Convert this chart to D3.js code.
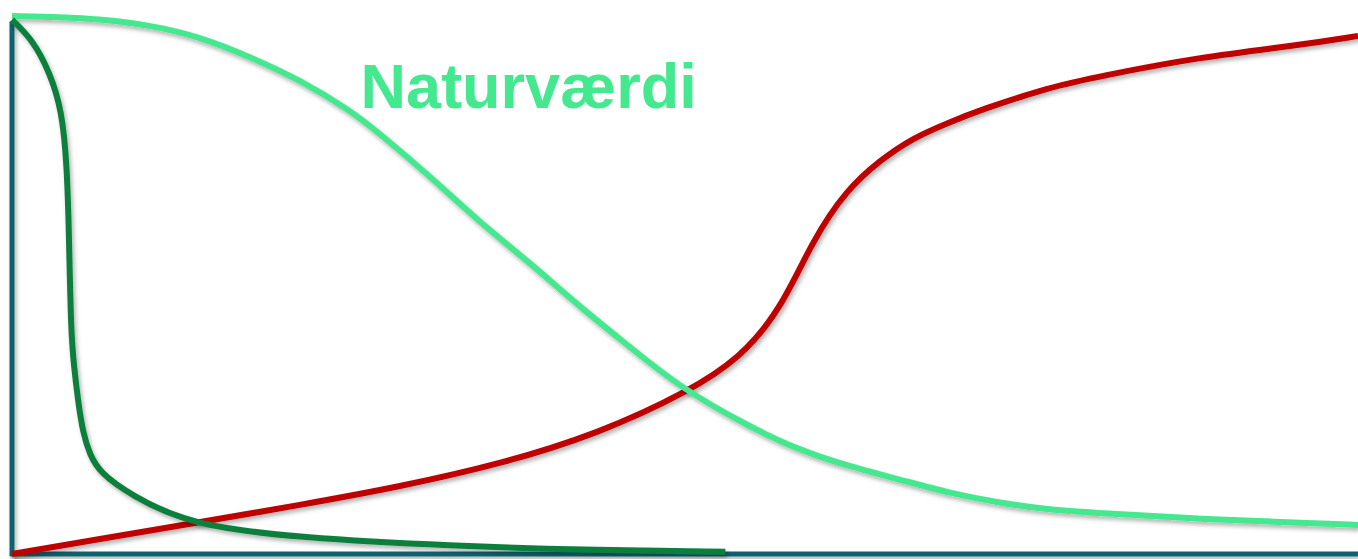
<!DOCTYPE html>
<html>
<head>
<meta charset="utf-8">
<script src="https://cdn.jsdelivr.net/npm/d3@7"></script>
<style>
  body { margin: 0; background: #fff; }
  svg { display: block; }
</style>
</head>
<body>
<div class="chart"></div>
<script>
// x and y both run 0..100 (no units on the original)
const naturX = [0, 3.6, 6.5, 10.3, 14.0, 17.7, 21.4, 25.1, 27.3, 31.1, 34.8, 38.5, 42.2, 45.9, 49.6, 54.8, 58.5, 62.3, 66.0, 69.7, 73.4, 77.1, 80.8, 88.3, 95.7, 100]
const naturY = [100, 99.8, 99.4, 98.3, 96.1, 92.4, 88.1, 82.5, 78.2, 70.1, 61.5, 54.1, 45.9, 38.5, 31.0, 23.6, 19.3, 16.2, 13.8, 11.3, 9.5, 8.2, 7.6, 6.5, 5.8, 5.4]

const redX = [0, 6.5, 13.2, 21.4, 28.8, 36.3, 43.7, 50.2, 54.1, 57.1, 59.5, 62.0, 64.5, 66.9, 69.5, 71.9, 77.1, 80.8, 88.3, 95.7, 100]
const redY = [0, 2.8, 5.6, 9.1, 12.5, 16.7, 22.5, 30.1, 36.4, 45.4, 58.4, 67.7, 73.2, 77.3, 80.1, 82.5, 86.8, 88.8, 92.4, 94.6, 96.3]

const darkX = [0, 1.56, 2.82, 3.71, 4.09, 4.23, 4.38, 4.61, 4.90, 5.27, 5.79, 6.54, 8.77, 13.2, 21.4, 32.5, 43.7, 53.0]
const darkY = [99.3, 95.5, 89.4, 82.5, 71.9, 59.7, 41.1, 34.8, 28.6, 22.5, 18.4, 15.1, 11.0, 5.4, 3.0, 1.5, 0.7, 0.4]

const label = 'Naturværdi'

const width = 1358
const height = 559
const margin = {top: 16, right: 0, bottom: 5, left: 12}

const svg = d3.select('.chart')
  .append('svg')
  .attr('width', width)
  .attr('height', height)

// soft shadow under the lines (user space so straight lines keep it too)
const filter = svg.append('defs').append('filter')
  .attr('id', 'shadow')
  .attr('filterUnits', 'userSpaceOnUse')
  .attr('x', 0).attr('y', 0)
  .attr('width', width).attr('height', height)
filter.append('feDropShadow')
  .attr('dx', 2)
  .attr('dy', 3)
  .attr('stdDeviation', 2)
  .attr('flood-color', '#000')
  .attr('flood-opacity', 0.3)

const x = d3.scaleLinear().domain([0, 100]).range([margin.left, width - margin.right])
const y = d3.scaleLinear().domain([0, 100]).range([height - margin.bottom, margin.top])

const line = d3.line()
  .x(d => x(d[0]))
  .y(d => y(d[1]))
  .curve(d3.curveBasis)

// axes: just the two lines, no ticks
const axisColor = '#11626f'
svg.append('line')
  .attr('x1', x(0)).attr('x2', x(0))
  .attr('y1', y(99)).attr('y2', y(0) + 2)
  .attr('stroke', axisColor)
  .attr('stroke-width', 5)
  .attr('filter', 'url(#shadow)')
svg.append('line')
  .attr('x1', x(0) - 2).attr('x2', x(100))
  .attr('y1', y(0)).attr('y2', y(0))
  .attr('stroke', axisColor)
  .attr('stroke-width', 5)
  .attr('filter', 'url(#shadow)')

const series = [
  {xs: redX, ys: redY, color: '#c00000'},
  {xs: naturX, ys: naturY, color: '#44e88f'},
  {xs: darkX, ys: darkY, color: '#0f7f3d'}
]

svg.selectAll('.curve')
  .data(series)
  .enter()
  .append('path')
  .attr('class', 'curve')
  .attr('d', s => line(s.xs.map((v, i) => [v, s.ys[i]])))
  .attr('fill', 'none')
  .attr('stroke', s => s.color)
  .attr('stroke-width', 6)
  .attr('stroke-linecap', 'butt')
  .attr('filter', 'url(#shadow)')

svg.append('text')
  .attr('x', x(25.9))
  .attr('y', y(82.9))
  .attr('font-family', '"Liberation Sans", Arial, sans-serif')
  .attr('font-weight', 'bold')
  .attr('font-size', 63)
  .attr('fill', '#44e88f')
  .text(label)
</script>
</body>
</html>
